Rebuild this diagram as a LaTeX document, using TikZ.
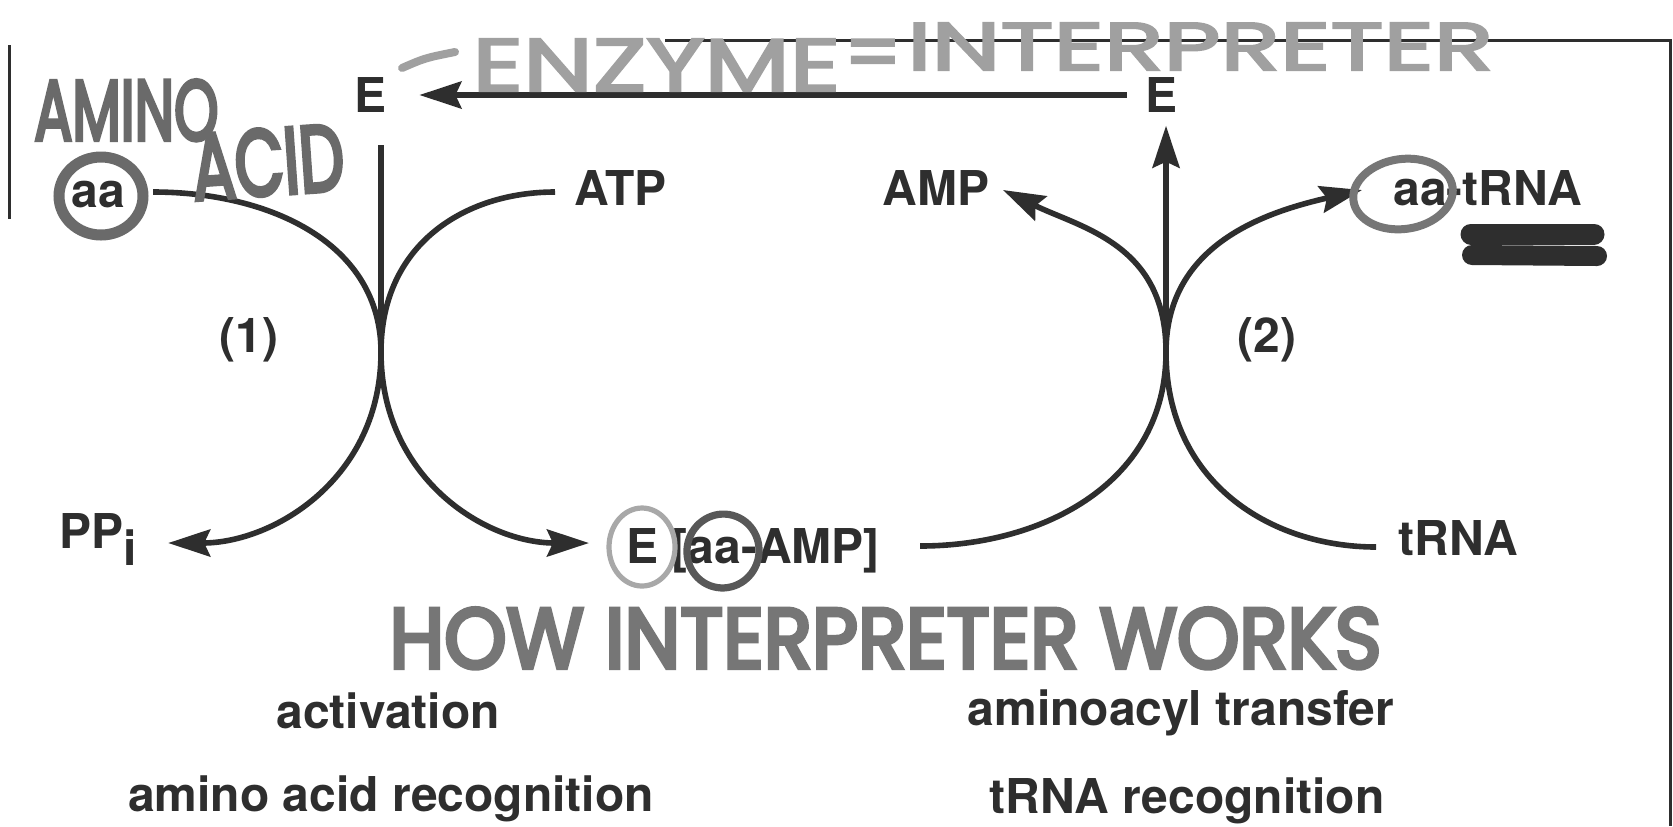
\documentclass[tikz,border=0pt]{standalone}
\usepackage{fontspec}
\setmainfont{TeX Gyre Heros}
\newfontfamily\handfont{Poppins}[FakeBold=3]
\newfontfamily\handfontheavy{Poppins}[FakeBold=5]
\usetikzlibrary{arrows.meta}
\definecolor{ink}{HTML}{2E2E2E}
\definecolor{penlight}{HTML}{A0A0A0}
\definecolor{penmid}{HTML}{767676}
\definecolor{pendark}{HTML}{6A6A6A}
\definecolor{ringlight}{HTML}{A8A8A8}
\definecolor{ringdark}{HTML}{585858}
\begin{document}
\begin{tikzpicture}[x=0.5pt,y=-0.5pt,
  lbl/.style={font=\fontsize{24}{28}\selectfont\bfseries, text=ink, inner sep=0pt,
              text height=17.3pt, text depth=0pt},
  flow/.style={draw=ink, line width=2.8pt},
  tipped/.style={flow, -{Stealth[length=21pt,width=13.5pt,inset=3pt]}},
  hand/.style={inner sep=0pt, font=\handfont},
  handheavy/.style={inner sep=0pt, font=\handfontheavy},
  ring/.style={line width=#1},
  frame/.style={draw=ink, line width=1.5pt}]
\useasboundingbox (0,0) rectangle (1673,826);
\fill[white] (0,0) rectangle (1673,826);

% page frame fragments
\draw[frame] (9,45) -- (9,219);
\draw[frame] (665,40) -- (1670,40) -- (1670,826);

% printed labels
\node[lbl] (Eleft) at (371,95) {E};
\node[lbl] (Eright) at (1161,95) {E};
\node[lbl, anchor=west] (atp) at (574,188) {ATP};
\node[lbl, anchor=east] (amp) at (990,188) {AMP};
\node[lbl, anchor=west] (aatrna) at (1393,188) {aa-tRNA};
\node[lbl] (aa) at (98,190) {aa};
\node[lbl, anchor=west] (ppi) at (59,531) {PP\raisebox{-8.5pt}{i}};
\node[lbl, anchor=west] (eaa) at (626,546) {E [aa-AMP]};
\node[lbl, anchor=west] (trna) at (1398,538) {tRNA};
\node[lbl] (r1) at (249,335) {(1)};
\node[lbl] (r2) at (1267,335) {(2)};
\node[lbl] (act) at (388,711) {activation};
\node[lbl] (aarec) at (391,794) {amino acid recognition};
\node[lbl] (acyl) at (1181,708) {aminoacyl transfer};
\node[lbl] (trec) at (1187,796) {tRNA recognition};

% meeting points of the two reactions
\coordinate (x1) at (381,352);
\coordinate (x2) at (1166,352);
\coordinate (topL) at (381,145);

% enzyme released and returned
\draw[tipped] ([xshift=-9pt]Eright.west) -- ([xshift=16pt]Eleft.east);
\draw[flow] (topL) -- ([yshift=-10pt]x1);
\draw[tipped] ([yshift=-10pt]x2) -- ([xshift=2.5pt,yshift=-6.5pt]Eright.south);

% reaction (1): activation
\draw[tipped]
  ([xshift=14pt,yshift=-1pt]aa.east) .. controls +(118,0) and +(0,-108) .. (x1)
  .. controls +(0,126) and +(-104,0) .. ([xshift=-18.5pt,yshift=1.5pt]eaa.west);
\draw[tipped]
  ([xshift=-9.5pt,yshift=-2pt]atp.west) .. controls +(-90,0) and +(0,-108) .. (x1)
  .. controls +(0,126) and +(106,0) .. ([xshift=15.5pt,yshift=-6pt]ppi.east);

% reaction (2): aminoacyl transfer
\draw[tipped]
  ([xshift=20pt]eaa.east) .. controls +(124,0) and +(0,130) .. (x2)
  .. controls +(0,-108) and +(-96,22) .. ([xshift=-15.5pt,yshift=-1pt]aatrna.west);
\draw[tipped]
  ([xshift=-11pt,yshift=-4.5pt]trna.west) .. controls +(-106,0) and +(0,130) .. (x2)
  .. controls +(0,-108) and +(78,38) .. ([xshift=6.5pt,yshift=-1pt]amp.east);

% pen marks: circles and crossing-out
\draw[pendark, ring=5.5pt] (101,196) ellipse [x radius=42, y radius=39];
\draw[ringlight, ring=2.6pt] (642,547) ellipse [x radius=33, y radius=39];
\draw[ringdark, ring=3.6pt, rotate around={-15:(723,551)}] (723,551) ellipse [x radius=36, y radius=37];
\draw[penmid, ring=4pt, rotate around={8:(1403,194)}] (1403,194) ellipse [x radius=50, y radius=35];
\draw[ink, line width=10.5pt, line cap=round] (1471,234) -- (1594,234);
\draw[ink, line width=10pt, line cap=round] (1472,255) -- (1597,256);

% handwritten notes
\node[handheavy, text=pendark, anchor=base west] (amino) at (34,140) {\resizebox{92pt}{30pt}{AMINO}};
\node[handheavy, text=pendark, anchor=base west, rotate=4] (acid) at (194,200) {\resizebox{76pt}{33pt}{ACID}};
\draw[penlight, line width=4pt, line cap=round] (402,68) .. controls (425,58) .. (455,52);
\node[hand, text=penlight, anchor=base west] (enz) at (472,91) {\resizebox{184pt}{26pt}{ENZYME}};
\node[hand, text=penlight, font=\handfont\fontsize{40}{40}\selectfont] (eq) at (873,60) {=};
\node[hand, text=penlight, anchor=base west] (interp) at (907,70) {\resizebox{293pt}{23.5pt}{INTERPRETER}};
\node[handheavy, text=penmid, anchor=base west] (how) at (389,668) {\resizebox{496pt}{30pt}{HOW INTERPRETER WORKS}};
\end{tikzpicture}
\end{document}
